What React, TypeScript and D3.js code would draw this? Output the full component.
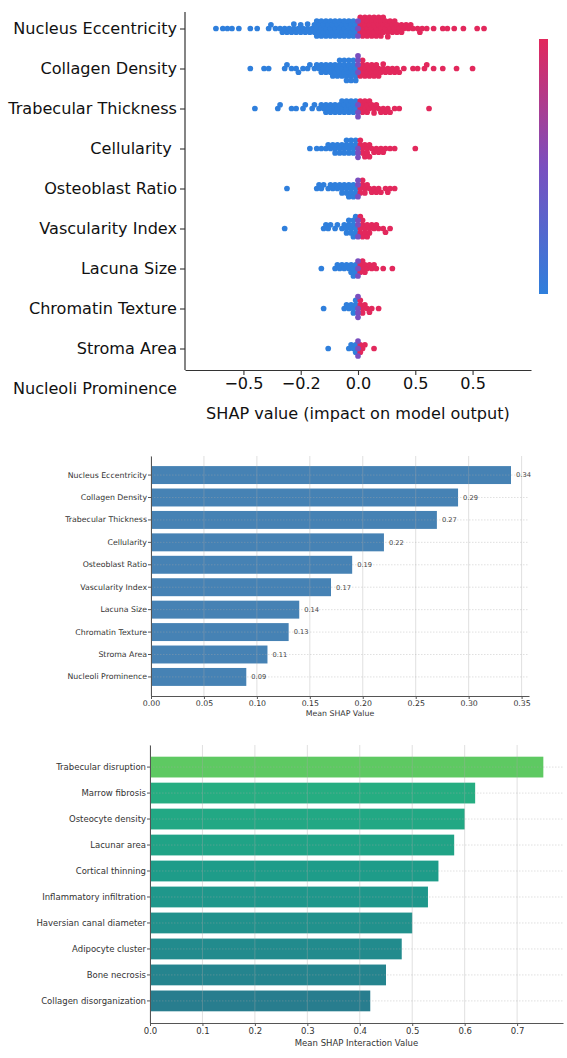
import { useEffect, useRef } from 'react';
import * as d3 from 'd3';

// ---- beeswarm: per-feature SHAP values ----
const swarmFeatures = [
  'Nucleus Eccentricity',
  'Collagen Density',
  'Trabecular Thickness',
  'Cellularity ',
  'Osteoblast Ratio',
  'Vascularity Index',
  'Lacuna Size',
  'Chromatin Texture',
  'Stroma Area',
  'Nucleoli Prominence',
];

const nucleusEccentricity = [
  -0.62, -0.59, -0.57, -0.55, -0.52, -0.47, -0.44, -0.39, -0.38, -0.36,
  -0.34, -0.33, -0.32, -0.31, -0.3, -0.29, -0.28, -0.28, -0.27, -0.26, -0.25, -0.25, -0.24, -0.23, -0.22, -0.22, -0.21, -0.2,
  -0.19, -0.19, -0.18, -0.18, -0.18, -0.17, -0.17, -0.16, -0.16, -0.16, -0.15, -0.15, -0.14, -0.14, -0.14, -0.13, -0.13,
  -0.12, -0.12, -0.12, -0.11, -0.11, -0.1, -0.1, -0.1, -0.09, -0.09, -0.08, -0.08, -0.08, -0.07, -0.07, -0.06, -0.06, -0.06,
  -0.05, -0.05, -0.04, -0.04, -0.04, -0.03, -0.03, -0.02, -0.02, -0.02, -0.01, -0.01, 0, 0, 0,
  0.01, 0.01, 0.01, 0.02, 0.02, 0.02, 0.03, 0.03, 0.03, 0.04, 0.04, 0.04, 0.05, 0.05, 0.05, 0.06, 0.06, 0.06, 0.07, 0.07, 0.07,
  0.08, 0.08, 0.08, 0.09, 0.09, 0.09, 0.1, 0.1, 0.1, 0.11, 0.11, 0.11, 0.12, 0.12, 0.13, 0.13, 0.13, 0.14, 0.14, 0.15, 0.15,
  0.16, 0.16, 0.17, 0.17, 0.18, 0.19, 0.19, 0.2, 0.21, 0.22, 0.23, 0.24,
  0.26, 0.27, 0.28, 0.3, 0.33, 0.37, 0.39, 0.42, 0.46, 0.52, 0.55,
];

const collagenDensity = [
  -0.47, -0.41, -0.39, -0.32, -0.31, -0.29, -0.27, -0.26, -0.24, -0.22, -0.21,
  -0.19, -0.18, -0.17, -0.16, -0.16, -0.15, -0.14, -0.14, -0.13, -0.12, -0.12, -0.11, -0.11, -0.1, -0.1, -0.09, -0.09,
  -0.08, -0.08, -0.08, -0.07, -0.07, -0.06, -0.06, -0.06, -0.05, -0.05, -0.05, -0.04, -0.04, -0.04, -0.03, -0.03, -0.03,
  -0.02, -0.02, -0.02, -0.01, -0.01, -0.01, 0, 0, 0, 0,
  0.01, 0.01, 0.02, 0.02, 0.02, 0.03, 0.03, 0.04, 0.04, 0.05, 0.05, 0.06, 0.06, 0.07, 0.07, 0.08, 0.08, 0.09, 0.09,
  0.1, 0.11, 0.11, 0.12, 0.13, 0.14, 0.15, 0.16, 0.17, 0.18,
  0.2, 0.24, 0.26, 0.29, 0.3, 0.33, 0.37, 0.43, 0.5,
];

const trabecularThickness = [
  -0.45, -0.35, -0.34, -0.29, -0.27, -0.24, -0.23, -0.2, -0.19,
  -0.17, -0.16, -0.15, -0.14, -0.14, -0.13, -0.12, -0.12, -0.11, -0.1, -0.1, -0.09, -0.08, -0.08, -0.07, -0.07,
  -0.06, -0.06, -0.05, -0.05, -0.04, -0.04, -0.03, -0.03, -0.02, -0.02, -0.01, -0.01, 0, 0, 0,
  0.01, 0.01, 0.02, 0.02, 0.03, 0.03, 0.04, 0.04, 0.05, 0.05, 0.06, 0.07, 0.07, 0.08, 0.09, 0.1, 0.11, 0.12, 0.13, 0.14,
  0.16, 0.18, 0.31,
];

const cellularity = [
  -0.21, -0.18, -0.16, -0.14,
  -0.13, -0.12, -0.11, -0.1, -0.1, -0.09, -0.08, -0.08, -0.07, -0.06, -0.06, -0.05, -0.05, -0.04, -0.04,
  -0.03, -0.03, -0.02, -0.02, -0.01, -0.01, 0, 0, 0,
  0.01, 0.01, 0.02, 0.02, 0.03, 0.03, 0.04, 0.04, 0.05, 0.05, 0.06, 0.07, 0.08, 0.09, 0.1,
  0.11, 0.12, 0.14, 0.16, 0.25,
];

const osteoblastRatio = [
  -0.31, -0.18, -0.17, -0.16, -0.15, -0.13, -0.12, -0.11, -0.1, -0.09, -0.08, -0.07, -0.07, -0.06, -0.05, -0.05,
  -0.04, -0.04, -0.03, -0.03, -0.02, -0.02, -0.01, -0.01, 0, 0, 0,
  0.01, 0.01, 0.02, 0.02, 0.03, 0.03, 0.04, 0.05, 0.06, 0.07, 0.08, 0.09, 0.1, 0.12, 0.13, 0.14, 0.16,
];

const vascularityIndex = [
  -0.32, -0.15, -0.14, -0.13, -0.12, -0.1, -0.09, -0.07, -0.06, -0.05, -0.05, -0.04, -0.04, -0.03, -0.03,
  -0.02, -0.02, -0.02, -0.01, -0.01, -0.01, 0, 0, 0,
  0.01, 0.01, 0.01, 0.02, 0.02, 0.02, 0.03, 0.03, 0.04, 0.04, 0.05, 0.05, 0.06, 0.07, 0.08, 0.09, 0.11, 0.12, 0.14,
];

const lacunaSize = [
  -0.16, -0.1, -0.09, -0.08, -0.07, -0.06, -0.05, -0.04, -0.03, -0.03, -0.02, -0.02, -0.01, -0.01, 0, 0, 0,
  0.01, 0.01, 0.02, 0.02, 0.03, 0.03, 0.04, 0.05, 0.06, 0.07, 0.08, 0.11, 0.15,
];

const chromatinTexture = [
  -0.15, -0.06, -0.05, -0.04, -0.03, -0.02, -0.02, -0.01, -0.01, 0, 0, 0, 0,
  0.01, 0.01, 0.02, 0.02, 0.03, 0.04, 0.05, 0.06, 0.09,
];

const stromaArea = [-0.13, -0.04, -0.03, -0.02, -0.01, -0.01, 0, 0, 0, 0.01, 0.01, 0.02, 0.03, 0.07];

const nucleoliProminence: number[] = [];

const swarmValues = [
  nucleusEccentricity,
  collagenDensity,
  trabecularThickness,
  cellularity,
  osteoblastRatio,
  vascularityIndex,
  lacunaSize,
  chromatinTexture,
  stromaArea,
  nucleoliProminence,
];

const swarmTicks = [-0.5, -0.25, 0, 0.25, 0.5];
const swarmTickLabels = ['\u22120.5', '\u22120.2', '0.0', '0.5', '0.5'];

// ---- mean |SHAP| bar chart ----
const meanFeatures = [
  'Nucleus Eccentricity',
  'Collagen Density',
  'Trabecular Thickness',
  'Cellularity',
  'Osteoblast Ratio',
  'Vascularity Index',
  'Lacuna Size',
  'Chromatin Texture',
  'Stroma Area',
  'Nucleoli Prominence',
];
const meanValues = [0.34, 0.29, 0.27, 0.22, 0.19, 0.17, 0.14, 0.13, 0.11, 0.09];
const meanTicks = [0, 0.05, 0.1, 0.15, 0.2, 0.25, 0.3, 0.35];

// ---- interaction bar chart ----
const interactionFeatures = [
  'Trabecular disruption',
  'Marrow fibrosis',
  'Osteocyte density',
  'Lacunar area',
  'Cortical thinning',
  'Inflammatory infiltration',
  'Haversian canal diameter',
  'Adipocyte cluster',
  'Bone necrosis',
  'Collagen disorganization',
];
const interactionValues = [0.75, 0.62, 0.6, 0.58, 0.55, 0.53, 0.5, 0.48, 0.45, 0.42];
const interactionTicks = [0, 0.1, 0.2, 0.3, 0.4, 0.5, 0.6, 0.7];

const FONT = 'DejaVu Sans, Verdana, sans-serif';
const BLUE = '#2f7fdc';
const PURPLE = '#7a4fbf';
const RED = '#e2285c';

// vertical offsets so that dots of one row do not sit on top of each other
function dodge(xs: number[], minDist: number) {
  const order = xs.map((_, i) => i).sort((a, b) => xs[a] - xs[b]);
  const ys = new Array(xs.length).fill(0);
  const placed: number[] = [];
  const d2 = minDist * minDist;
  order.forEach((i, k) => {
    const x = xs[i];
    const near = placed.filter((j) => Math.abs(xs[j] - x) < minDist);
    const cands = [0];
    near.forEach((j) => {
      const dy = Math.sqrt(d2 - (xs[j] - x) ** 2);
      cands.push(ys[j] + dy, ys[j] - dy);
    });
    const flip = k % 2 === 0 ? 1 : -1;
    cands.sort((a, b) => Math.abs(a) - Math.abs(b) || flip * (a - b));
    const y = cands.find((c) => near.every((j) => (xs[j] - x) ** 2 + (ys[j] - c) ** 2 >= d2 - 1e-6)) ?? 0;
    ys[i] = y;
    placed.push(i);
  });
  return ys;
}

type Sel = d3.Selection<SVGSVGElement, unknown, null, undefined>;

function drawSwarm(svg: Sel) {
  const left = 185;
  const right = 531;
  const top = 12;
  const bottom = 370;

  const x = d3.scaleLinear().domain([-0.755, 0.755]).range([left, right]);
  const y = d3.scalePoint<string>().domain(swarmFeatures).range([28.5, 388.5]);
  const color = d3
    .scaleLinear<string>()
    .domain([-0.005, 0, 0.005])
    .range([BLUE, PURPLE, RED])
    .clamp(true);

  const dots = svg.append('g');
  swarmFeatures.forEach((name, r) => {
    const vals = swarmValues[r];
    const xs = vals.map((v) => x(v));
    const offs = dodge(xs, 4.4);
    const pts = vals.map((v, i) => ({ v, cx: xs[i], cy: (y(name) ?? 0) + offs[i] }));
    // zero values drawn last so the purple seam stays visible
    pts.sort((a, b) => (a.v === 0 ? 1 : 0) - (b.v === 0 ? 1 : 0));
    dots
      .append('g')
      .selectAll('circle')
      .data(pts)
      .join('circle')
      .attr('cx', (d) => d.cx)
      .attr('cy', (d) => d.cy)
      .attr('r', 2.85)
      .attr('fill', (d) => color(d.v));
  });

  // left spine + feature names
  const yAxis = svg
    .append('g')
    .attr('transform', `translate(${left},0)`)
    .call(d3.axisLeft(y).tickSize(5).tickPadding(3));
  yAxis.select('.domain').remove();
  yAxis.selectAll('.tick line').attr('stroke', '#333').attr('stroke-width', 1.1);
  yAxis
    .selectAll<SVGGElement, string>('.tick')
    .filter((d) => (y(d) ?? 0) > bottom)
    .select('line')
    .remove();
  yAxis
    .selectAll('text')
    .attr('fill', '#111')
    .attr('font-size', 16.1)
    .attr('font-family', FONT)
    .style('white-space', 'pre');
  svg
    .append('line')
    .attr('x1', left)
    .attr('x2', left)
    .attr('y1', top)
    .attr('y2', bottom)
    .attr('stroke', '#333')
    .attr('stroke-width', 1.2);

  const xAxis = svg
    .append('g')
    .attr('transform', `translate(0,${bottom})`)
    .call(
      d3
        .axisBottom(x)
        .tickValues(swarmTicks)
        .tickFormat((_, i) => swarmTickLabels[i])
        .tickSize(5)
        .tickSizeOuter(0)
        .tickPadding(3),
    );
  xAxis.select('.domain').attr('stroke', '#333').attr('stroke-width', 1.2);
  xAxis.selectAll('.tick line').attr('stroke', '#333').attr('stroke-width', 1.1);
  xAxis.selectAll('text').attr('fill', '#111').attr('font-size', 16.1).attr('font-family', FONT);

  svg
    .append('text')
    .attr('x', x(0))
    .attr('y', 419)
    .attr('text-anchor', 'middle')
    .attr('fill', '#111')
    .attr('font-size', 16.1)
    .attr('font-family', FONT)
    .text('SHAP value (impact on model output)');

  // colour bar
  const grad = svg
    .append('defs')
    .append('linearGradient')
    .attr('id', 'shap-bar')
    .attr('x1', 0)
    .attr('x2', 0)
    .attr('y1', 0)
    .attr('y2', 1);
  grad.append('stop').attr('offset', '0%').attr('stop-color', RED);
  grad.append('stop').attr('offset', '50%').attr('stop-color', PURPLE);
  grad.append('stop').attr('offset', '100%').attr('stop-color', BLUE);
  svg.append('rect').attr('x', 539).attr('y', 39).attr('width', 9).attr('height', 255).attr('fill', 'url(#shap-bar)');
}

interface BarCfg {
  names: string[];
  values: number[];
  ticks: number[];
  fmt: string;
  left: number;
  right: number;
  top: number;
  bottom: number;
  xMax: number;
  font: number;
  tickOffset: number;
  colorOf: (v: number) => string;
  valueLabels: boolean;
  title: string;
  titleY: number;
}

function drawBars(svg: Sel, c: BarCfg) {
  const x = d3.scaleLinear().domain([0, c.xMax]).range([c.left, c.right]);
  const y = d3.scaleBand<string>().domain(c.names).range([c.top, c.bottom]).paddingInner(0.2).paddingOuter(0.45);
  const g = svg.append('g');

  g.selectAll('rect')
    .data(c.names)
    .join('rect')
    .attr('x', x(0))
    .attr('y', (d) => y(d) ?? 0)
    .attr('width', (_, i) => x(c.values[i]) - x(0))
    .attr('height', y.bandwidth())
    .attr('fill', (_, i) => c.colorOf(c.values[i]));

  // grid on top of the bars, faint
  const grid = g.append('g').attr('stroke', '#a8a8a8').attr('stroke-opacity', 0.45).attr('stroke-width', 0.8);
  grid
    .selectAll('line.v')
    .data(c.ticks)
    .join('line')
    .attr('class', 'v')
    .attr('x1', (d) => x(d))
    .attr('x2', (d) => x(d))
    .attr('y1', c.top)
    .attr('y2', c.bottom);
  grid
    .selectAll('line.h')
    .data(c.names)
    .join('line')
    .attr('class', 'h')
    .attr('x1', c.left)
    .attr('x2', c.right)
    .attr('y1', (d) => (y(d) ?? 0) + y.bandwidth() / 2)
    .attr('y2', (d) => (y(d) ?? 0) + y.bandwidth() / 2)
    .attr('stroke-dasharray', '1.5,1.5');

  if (c.valueLabels) {
    g.selectAll('text.val')
      .data(c.names)
      .join('text')
      .attr('class', 'val')
      .attr('x', (_, i) => x(c.values[i]) + 5)
      .attr('y', (d) => (y(d) ?? 0) + y.bandwidth() / 2)
      .attr('dy', '0.35em')
      .attr('fill', '#444')
      .attr('font-size', 6.7)
      .attr('font-family', FONT)
      .text((_, i) => d3.format('.2f')(c.values[i]));
  }

  const yAxis = g
    .append('g')
    .attr('transform', `translate(${c.left},0)`)
    .call(d3.axisLeft(y).tickSize(3).tickSizeOuter(0).tickPadding(1));
  yAxis.select('.domain').attr('stroke', '#555').attr('stroke-width', 1);
  yAxis.selectAll('.tick line').attr('stroke', '#555');
  yAxis.selectAll('text').attr('fill', '#333').attr('font-size', c.font).attr('font-family', FONT);

  const xAxis = g
    .append('g')
    .attr('transform', `translate(0,${c.bottom})`)
    .call(
      d3
        .axisBottom(x)
        .tickValues(c.ticks)
        .tickFormat(d3.format(c.fmt))
        .tickSize(3)
        .tickSizeOuter(0)
        .tickPadding(c.tickOffset),
    );
  xAxis.select('.domain').attr('stroke', '#555').attr('stroke-width', 1);
  xAxis.selectAll('.tick line').attr('stroke', '#555');
  xAxis.selectAll('text').attr('fill', '#333').attr('font-size', c.font).attr('font-family', FONT);

  g.append('text')
    .attr('x', (c.left + c.right) / 2)
    .attr('y', c.titleY)
    .attr('text-anchor', 'middle')
    .attr('fill', '#333')
    .attr('font-size', c.font)
    .attr('font-family', FONT)
    .text(c.title);
}

export default function App() {
  const svgRef = useRef<SVGSVGElement | null>(null);

  useEffect(() => {
    if (!svgRef.current) return;
    const svg = d3.select(svgRef.current);
    svg.selectAll('*').remove();
    svg.append('rect').attr('width', 567).attr('height', 1058).attr('fill', '#fff');

    drawSwarm(svg);

    drawBars(svg, {
      names: meanFeatures,
      values: meanValues,
      ticks: meanTicks,
      fmt: '.2f',
      left: 151,
      right: 529,
      top: 456,
      bottom: 696,
      xMax: 0.357,
      font: 7.8,
      tickOffset: 1.5,
      colorOf: () => '#4682b4',
      valueLabels: true,
      title: 'Mean SHAP Value',
      titleY: 716,
    });

    drawBars(svg, {
      names: interactionFeatures,
      values: interactionValues,
      ticks: interactionTicks,
      fmt: '.1f',
      left: 150,
      right: 563,
      top: 745,
      bottom: 1023,
      xMax: 0.7875,
      font: 8.5,
      tickOffset: 2,
      colorOf: (v) => d3.interpolateViridis(v),
      valueLabels: false,
      title: 'Mean SHAP Interaction Value',
      titleY: 1046,
    });
  }, []);

  return (
    <svg
      ref={svgRef}
      width={567}
      height={1058}
      viewBox="0 0 567 1058"
      style={{ position: 'absolute', left: 0, top: 0, display: 'block' }}
    />
  );
}
